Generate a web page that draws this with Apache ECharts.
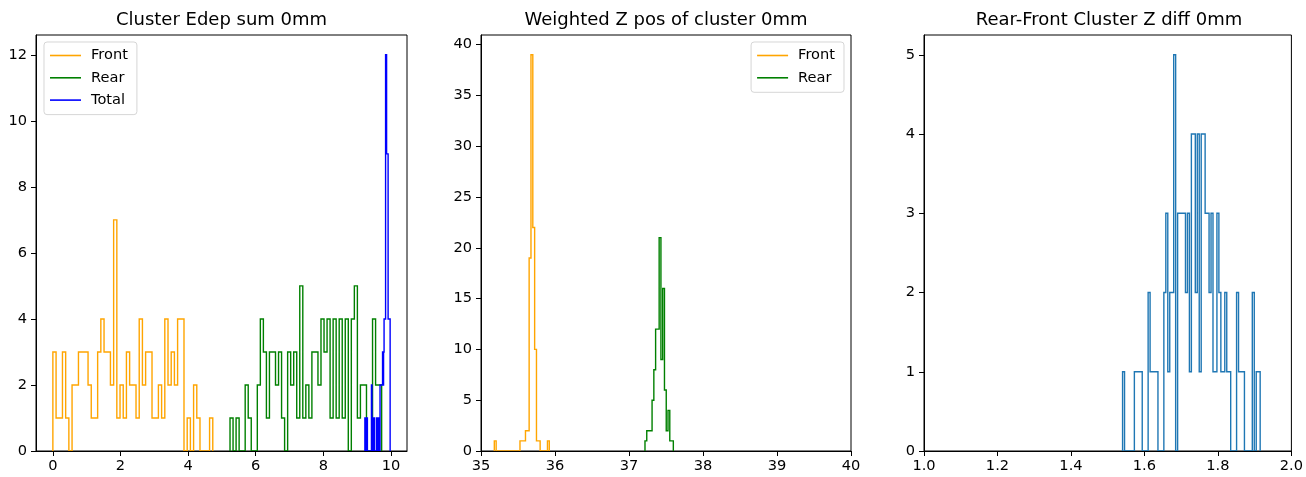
<!DOCTYPE html>
<html><head><meta charset="utf-8">
<script src="https://cdn.jsdelivr.net/npm/echarts@6/dist/echarts.min.js"></script>
<style>html,body{margin:0;padding:0;background:#fff}#c{width:1306px;height:477px}</style>
</head><body><div id="c"></div>
<script>
// ---------- titles ----------
const titles = ['Cluster Edep sum 0mm', 'Weighted Z pos of cluster 0mm', 'Rear-Front Cluster Z diff 0mm'];

// ---------- panel 1: Cluster Edep sum (histogram ranges + bin counts) ----------
const edepFrontRange = [0.0, 4.73];
const edepFrontCounts = [3,1,1,3,1,0,2,2,3,3, 3,2,1,1,3,4,3,3,2,7, 1,2,1,3,2,2,1,4,2,3, 3,1,1,2,1,4,2,3,2,4, 4,0,1,0,2,1,0,0,0,1];
const edepRearRange = [5.24, 9.725];
const edepRearCounts = [1,0,1,0,0,2,1,0,0,2, 4,3,1,3,3,2,3,1,0,3, 2,3,1,5,1,2,1,3,3,2, 4,3,4,1,4,1,4,1,4,0, 4,5,1,2,2,0,0,4,2,2];
const edepTotalRange = [9.229, 9.976];
const edepTotalCounts = [1,0,1,0,1,0,0,0,0,0, 0,0,0,2,1,0,1,0,1,0, 0,0,0,1,0,1,1,0,1,0, 2,2,2,2,2,3,2,3,4,4, 4,12,12,9,9,9,4,4,4,4];
const edepXRange = [-0.499, 10.475];
const edepYMax = 12.6;
const edepXTicks = [0, 2, 4, 6, 8, 10];
const edepYTicks = [0, 2, 4, 6, 8, 10, 12];

// ---------- panel 2: Weighted Z pos ----------
const zFrontRange = [35.18, 35.923];
const zFrontCounts = [1,0,0,0,0,0,0,0,0,0, 0,0,0,0,1,1,1,2,2,19, 39,22,10,1,1,0,0,0,0,1];
const zRearRange = [37.216, 37.599];
const zRearCounts = [1,2,2,2,5,8,12,12,21,9,16,6,2,4,1,1];
const zXRange = [35, 40];
const zYMax = 40.95;
const zXTicks = [35, 36, 37, 38, 39, 40];
const zYTicks = [0, 5, 10, 15, 20, 25, 30, 35, 40];

// ---------- panel 3: Rear-Front Z diff ----------
const diffRange = [1.5405, 1.915];
const diffCounts = [1,0,0,0,0,0, 1,1,1,1, 0,0,0, 2,1,1,1,1, 0,0,0, 2,3,1,2,2,5, 0,3,3,3,3,2,3, 1,4,4,2,4,1,4,4,3, 3,2,3,1,1,3,2,1,1,2,1,1, 0,0,0, 2,1,1,1, 0,0,0,0, 2,0,1,1];
const diffXRange = [1.0, 2.0];
const diffYMax = 5.25;
const diffXTicks = [1.0, 1.2, 1.4, 1.6, 1.8, 2.0];
const diffYTicks = [0, 1, 2, 3, 4, 5];

// ---------- helpers ----------
function stepOutline(range, counts) {
  const n = counts.length, w = (range[1] - range[0]) / n;
  const pts = [[range[0], 0]];
  for (let i = 0; i < n; i++) {
    const a = range[0] + i * w, b = range[0] + (i + 1) * w;
    pts.push([a, counts[i]], [b, counts[i]]);
  }
  pts.push([range[1], 0]);
  return pts;
}
const FONT = 'DejaVu Sans';
const TICK_FS = 14.6;
const grids = [
  {left: 36, top: 35, width: 371, height: 416},
  {left: 481, top: 35, width: 370, height: 416},
  {left: 924, top: 35, width: 370, height: 416}
].map(g => Object.assign(g, {show: true, borderColor: '#000', borderWidth: 1, backgroundColor: 'transparent'}));

function xAxisDef(idx, range, ticks, fmt) {
  return {
    type: 'value', gridIndex: idx, min: range[0], max: range[1], z: 5,
    splitLine: {show: false},
    axisLine: {show: true, onZero: false, lineStyle: {color: '#000', width: 1}},
    axisTick: {show: true, inside: false, length: 5, lineStyle: {color: '#000', width: 1}, customValues: ticks},
    axisLabel: {show: true, margin: 8, color: '#000', fontFamily: FONT, fontSize: TICK_FS, customValues: ticks,
      formatter: fmt || (v => String(v))}
  };
}
function yAxisDef(idx, max, ticks) {
  return {
    type: 'value', gridIndex: idx, min: 0, max: max, z: 5,
    splitLine: {show: false},
    axisLine: {show: true, onZero: false, lineStyle: {color: '#000', width: 1}},
    axisTick: {show: true, inside: false, length: 5, lineStyle: {color: '#000', width: 1}, customValues: ticks},
    axisLabel: {show: true, margin: 9, color: '#000', fontFamily: FONT, fontSize: TICK_FS, customValues: ticks,
      formatter: v => String(v)}
  };
}
// step histogram outline drawn as one exact polyline through the axis scales
function stepSeries(name, idx, range, counts, color) {
  const outline = stepOutline(range, counts);
  return {
    name: name, type: 'custom', xAxisIndex: idx, yAxisIndex: idx,
    data: [[range[0], 0]], clip: true, silent: true, animation: false, z: 2,
    itemStyle: {color: color},
    renderItem: function (params, api) {
      const pts = outline.map(p => api.coord(p));
      const cs = params.coordSys;
      return {
        type: 'polyline',
        shape: {points: pts},
        style: {stroke: color, lineWidth: 1.4, fill: null, lineJoin: 'miter', lineCap: 'butt'},
        clipPath: {type: 'rect', shape: {x: cs.x, y: cs.y, width: cs.width, height: cs.height}}
      };
    }
  };
}
const legendCommon = {
  orient: 'vertical', icon: 'rect', itemWidth: 31, itemHeight: 1.6, itemGap: 5.3,
  backgroundColor: 'rgba(255,255,255,0.8)', borderColor: 'rgba(204,204,204,0.8)', borderWidth: 1, borderRadius: 3,
  padding: [5, 9, 6, 6], selectedMode: false,
  textStyle: {fontFamily: FONT, fontSize: TICK_FS, color: '#000', lineHeight: 17, padding: [0, 0, 0, 5]}
};

const chart = echarts.init(document.getElementById('c'), null, {renderer: 'canvas'});
chart.setOption({
  animation: false,
  backgroundColor: '#fff',
  title: titles.map((t, i) => ({
    text: t, left: grids[i].left + grids[i].width / 2, top: 11, padding: 0, textAlign: 'center',
    textStyle: {fontFamily: FONT, fontSize: 18, fontWeight: 'normal', color: '#000'}
  })),
  legend: [
    Object.assign({}, legendCommon, {left: 44, top: 42, data: ['Front', 'Rear', 'Total']}),
    Object.assign({}, legendCommon, {right: 462, top: 42, data: ['Front', 'Rear']})
  ],
  grid: grids,
  xAxis: [
    xAxisDef(0, edepXRange, edepXTicks),
    xAxisDef(1, zXRange, zXTicks),
    xAxisDef(2, diffXRange, diffXTicks, v => v.toFixed(1))
  ],
  yAxis: [
    yAxisDef(0, edepYMax, edepYTicks),
    yAxisDef(1, zYMax, zYTicks),
    yAxisDef(2, diffYMax, diffYTicks)
  ],
  series: [
    stepSeries('Front', 0, edepFrontRange, edepFrontCounts, 'orange'),
    stepSeries('Rear', 0, edepRearRange, edepRearCounts, 'green'),
    stepSeries('Total', 0, edepTotalRange, edepTotalCounts, 'blue'),
    stepSeries('Front', 1, zFrontRange, zFrontCounts, 'orange'),
    stepSeries('Rear', 1, zRearRange, zRearCounts, 'green'),
    stepSeries('diff', 2, diffRange, diffCounts, '#1f77b4')
  ]
});
</script>
</body></html>
